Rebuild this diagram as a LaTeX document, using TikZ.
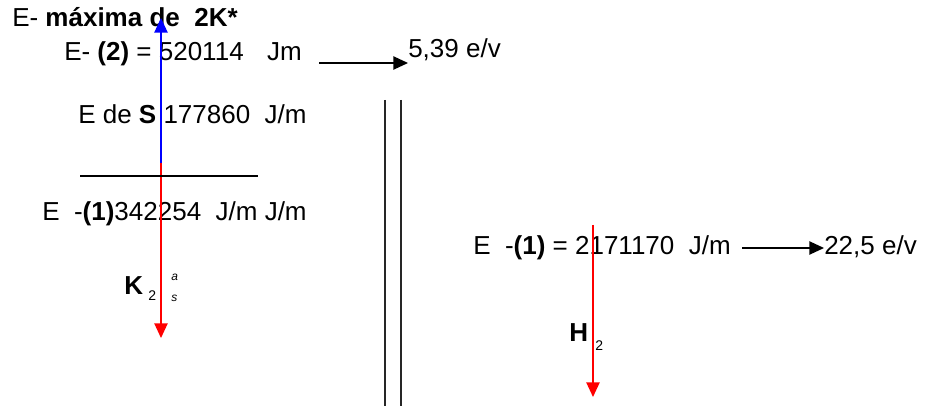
\documentclass[tikz,border=0pt]{standalone}
\usepackage{fontspec}
\setmainfont{Liberation Sans}
\usetikzlibrary{arrows.meta}
\begin{document}
\begin{tikzpicture}[x=0.75pt,y=-0.75pt,
  every node/.style={font=\fontsize{19.5}{23}\selectfont,inner sep=0pt,anchor=base west},
  subs/.style={font=\fontsize{10.5}{12}\selectfont},
  tiny/.style={font=\fontsize{9}{10}\selectfont\itshape},
  tip/.style={-{Triangle[length=11pt,width=10pt]},line width=1pt},
  redarrow/.style={tip,red},
  bluearrow/.style={tip,blue},
  blackarrow/.style={tip,black}]
\useasboundingbox (0,0) rectangle (925,406);
% left column: levels of K2
\node (title) at (12,27) {E- \textbf{máxima de\ \ 2K*}};
\node (etwo) at (64,61) {E- \textbf{(2)} = 520114\hspace{0.9em}Jm};
\node (eS) at (78,124) {E de \textbf{S} 177860\ \ J/m};
\node (eone) at (42,221) {E\ \ -\textbf{(1)}342254\ \ J/m J/m};
\node (K) at (124,294) {\textbf{K}};
\node[subs] (Ksub) at (148,300) {2};
\node[tiny] (Ka) at (171,280) {a};
\node[tiny] (Ks) at (171,301) {s};
\coordinate (split) at (161,163);
\coordinate (Ktop) at (161,18);
\coordinate (Kbot) at (161,338);
\draw[bluearrow] (split) -- (Ktop);
\draw[redarrow] (split) -- (Kbot);
\draw[line width=1pt] (80,176) -- (258,176);
\coordinate (ltail) at (319,63);
\node (ev1) at (408,58) {5,39 e/v};
\draw[blackarrow] (ltail) -- (ev1.west |- ltail);
% separator
\draw[line width=1pt,black!85] (385,100) -- (385,406);
\draw[line width=1pt,black!85] (401,100) -- (401,406);
% right column: H2
\node (hone) at (473,254) {E\ \ -\textbf{(1)} = 2171170\ \ J/m};
\coordinate (rtail) at (742,248);
\node (ev2) at (824,254) {22,5 e/v};
\draw[blackarrow] (rtail) -- (ev2.west |- rtail);
\node (H) at (569,341) {\textbf{H}};
\node[subs] (Hsub) at (595,350) {2};
\coordinate (Htop) at (593,225);
\coordinate (Hbot) at (593,397);
\draw[redarrow] (Htop) -- (Hbot);
\end{tikzpicture}
\end{document}
